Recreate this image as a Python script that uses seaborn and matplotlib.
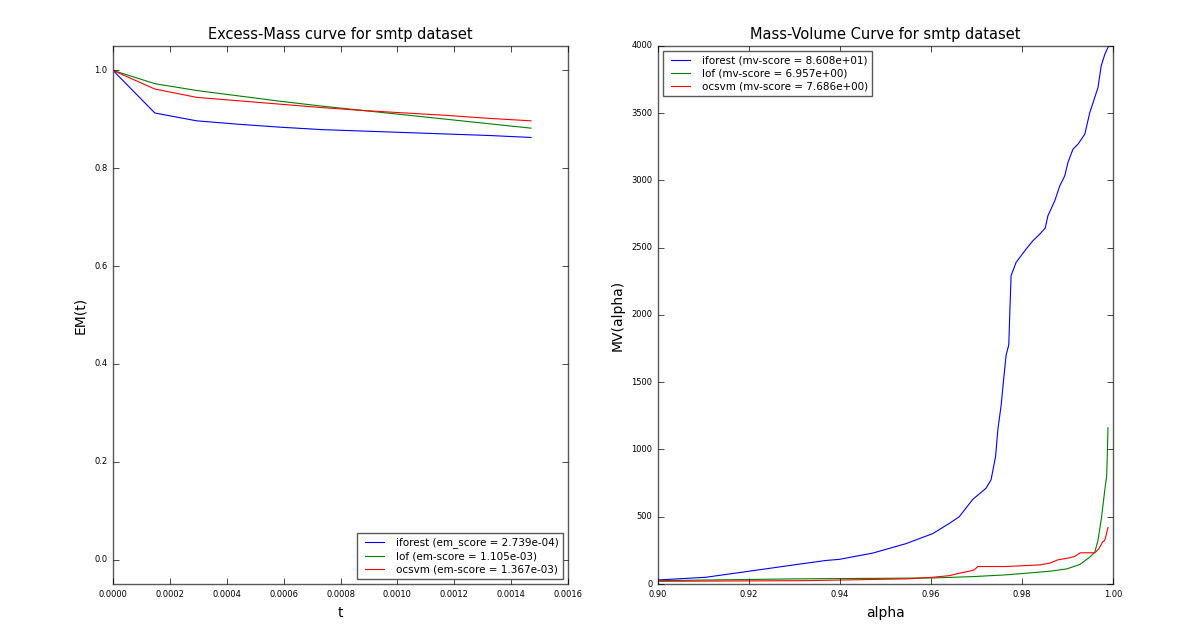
import numpy as np
import pandas as pd
import matplotlib
matplotlib.use("Agg")
import matplotlib.pyplot as plt
import seaborn as sns

# Excess-Mass curves
em_t = [0.0, 0.000147, 0.000294, 0.000441, 0.000588, 0.000735,
        0.000882, 0.001029, 0.001176, 0.001323, 0.00147]
em_iforest = [1.0, 0.913, 0.897, 0.890, 0.884, 0.879, 0.876, 0.873, 0.870, 0.867, 0.863]
em_lof = [1.0, 0.973, 0.959, 0.948, 0.937, 0.927, 0.918, 0.909, 0.900, 0.891, 0.882]
em_ocsvm = [1.0, 0.962, 0.945, 0.938, 0.931, 0.924, 0.918, 0.913, 0.908, 0.902, 0.897]
em_labels = ["iforest (em_score = 2.739e-04)",
             "lof (em-score = 1.105e-03)",
             "ocsvm (em-score = 1.367e-03)"]

# Mass-Volume curves
mv_alpha_iforest = [0.9000, 0.9105, 0.9200, 0.9288, 0.9369, 0.9398, 0.9472, 0.9545,
                    0.9604, 0.9640, 0.9662, 0.9692, 0.9721, 0.9732, 0.9742, 0.9747,
                    0.9754, 0.9759, 0.9765, 0.9771, 0.9773, 0.9776, 0.9787, 0.9809,
                    0.9824, 0.9839, 0.9851, 0.9857, 0.9872, 0.9883, 0.9894, 0.9901,
                    0.9912, 0.9923, 0.9938, 0.9949, 0.9967, 0.9974, 0.9982, 0.9989]
mv_iforest = [30, 50, 95, 137, 175, 183, 230, 300, 375, 450, 500, 630, 712, 775,
              950, 1150, 1325, 1500, 1700, 1780, 2000, 2292, 2391, 2490, 2552,
              2601, 2646, 2738, 2849, 2960, 3035, 3134, 3233, 3270, 3344, 3505,
              3691, 3851, 3938, 3990]
mv_alpha_lof = [0.9000, 0.9300, 0.9604, 0.9692, 0.9765, 0.9809, 0.9861, 0.9898,
                0.9927, 0.9949, 0.9960, 0.9967, 0.9975, 0.9982, 0.9986, 0.9987, 0.9989]
mv_lof = [25, 38, 45, 55, 68, 80, 95, 112, 145, 200, 237, 325, 500, 700, 800, 900, 1162]
mv_alpha_ocsvm = [0.9000, 0.9325, 0.9545, 0.9604, 0.9640, 0.9662, 0.9684, 0.9695,
                  0.9703, 0.9765, 0.9839, 0.9861, 0.9879, 0.9905, 0.9916, 0.9928,
                  0.9960, 0.9969, 0.9977, 0.9982, 0.9989]
mv_ocsvm = [20, 25, 38, 50, 62, 80, 95, 105, 130, 130, 142, 155, 180, 195, 205,
            232, 232, 262, 312, 325, 420]
mv_labels = ["iforest (mv-score = 8.608e+01)",
             "lof (mv-score = 6.957e+00)",
             "ocsvm (mv-score = 7.686e+00)"]

colors = ["#0000ff", "#008000", "#ff0000"]

plt.style.use("classic")
plt.rcParams["font.family"] = ["DejaVu Sans"]

fig = plt.figure(figsize=(11.96, 6.37), dpi=100, facecolor="white")
ax1 = fig.add_axes([0.0945, 0.0832, 0.3804, 0.8446])
ax2 = fig.add_axes([0.5502, 0.0832, 0.3804, 0.8446])

for ys, c, lab in zip([em_iforest, em_lof, em_ocsvm], colors, em_labels):
    sns.lineplot(x=em_t, y=ys, color=c, label=lab, linewidth=0.8,
                 estimator=None, sort=False, ax=ax1)

mv_series = [(mv_alpha_iforest, mv_iforest), (mv_alpha_lof, mv_lof),
             (mv_alpha_ocsvm, mv_ocsvm)]
for (xs, ys), c, lab in zip(mv_series, colors, mv_labels):
    sns.lineplot(x=xs, y=ys, color=c, label=lab, linewidth=0.8,
                 estimator=None, sort=False, ax=ax2)

ax1.set_xlim(0, 0.0016)
ax1.set_ylim(-0.05, 1.05)
ax1.set_xticks(np.arange(0, 0.00161, 0.0002))
ax1.set_xticklabels([f"{v:.4f}" for v in np.arange(0, 0.00161, 0.0002)])
ax1.set_yticks(np.arange(0, 1.01, 0.2))
ax1.set_yticklabels([f"{v:.1f}" for v in np.arange(0, 1.01, 0.2)])
ax1.set_title("Excess-Mass curve for smtp dataset", fontsize=10.5)
ax1.set_xlabel("t", fontsize=10)
ax1.set_ylabel("EM(t)", fontsize=10)

ax2.set_xlim(0.90, 1.00)
ax2.set_ylim(0, 4000)
ax2.set_xticks(np.arange(0.90, 1.001, 0.02))
ax2.set_xticklabels([f"{v:.2f}" for v in np.arange(0.90, 1.001, 0.02)])
ax2.set_yticks(np.arange(0, 4001, 500))
ax2.set_title("Mass-Volume Curve for smtp dataset", fontsize=10.5)
ax2.set_xlabel("alpha", fontsize=10)
ax2.set_ylabel("MV(alpha)", fontsize=10)

for ax in (ax1, ax2):
    ax.tick_params(labelsize=6, direction="in", length=4, top=True, right=True)
    for sp in ax.spines.values():
        sp.set_color("0.35")
        sp.set_linewidth(1.0)

leg1 = ax1.legend(loc="lower right", fontsize=7.5, frameon=True, fancybox=False,
                  handlelength=2.5, borderpad=0.4, labelspacing=0.3)
leg2 = ax2.legend(loc="upper left", fontsize=7.5, frameon=True, fancybox=False,
                  handlelength=2.5, borderpad=0.4, labelspacing=0.3)
for leg in (leg1, leg2):
    leg.get_frame().set_edgecolor("0.35")
    leg.get_frame().set_linewidth(1.0)

fig.savefig("out.png", dpi=100, facecolor="white")
